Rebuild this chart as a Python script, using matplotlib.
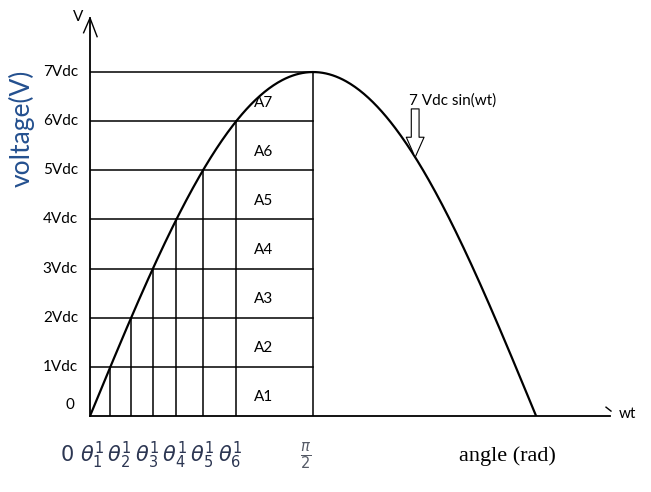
import numpy as np
import matplotlib
matplotlib.use('Agg')
import matplotlib.pyplot as plt

plt.rcParams['font.family'] = ['Lato', 'DejaVu Sans']

# staircase levels (multiples of Vdc) and their labels
levels = [1, 2, 3, 4, 5, 6, 7]
level_labels = ['1Vdc', '2Vdc', '3Vdc', '4Vdc', '5Vdc', '6Vdc', '7Vdc']
area_labels = ['A1', 'A2', 'A3', 'A4', 'A5', 'A6', 'A7']
peak = 7  # 7 Vdc sin(wt)

# switching angles: where the sine reaches each level
theta = [np.arcsin(k / peak) for k in levels[:-1]]

fig = plt.figure(figsize=(6.51, 4.92), dpi=100)
ax = fig.add_axes([90 / 651, 76 / 492, 520 / 651, 398 / 492])
ax.set_xlim(0, 3.662)
ax.set_ylim(0, 8.1)
ax.set_xticks([])
ax.set_yticks([])
for side in ['top', 'right']:
    ax.spines[side].set_visible(False)
for side in ['left', 'bottom']:
    ax.spines[side].set_linewidth(1.3)

# sine curve over half a period
wt = np.linspace(0, np.pi, 400)
ax.plot(wt, peak * np.sin(wt), color='black', lw=1.6)

# horizontal level lines and vertical angle lines
for k in levels:
    ax.plot([0, np.pi / 2], [k, k], color='black', lw=1.1)
for k, th in zip(levels, theta):
    ax.plot([th, th], [0, k], color='black', lw=1.1)
ax.plot([np.pi / 2, np.pi / 2], [0, peak], color='black', lw=1.1)

# level labels on the left
ax.text(-0.11, 0.22, '0', ha='right', va='center', fontsize=11)
for k, lab in zip(levels, level_labels):
    ax.text(-0.085, k, lab, ha='right', va='center', fontsize=11)

# area labels inside each band
for k, lab in enumerate(area_labels):
    ax.text(1.22, k + 0.38, lab, ha='center', va='center', fontsize=11)

# hollow arrow pointing down at the curve, with its label above
xa = 2.29
ax.annotate('', xy=(xa, peak * np.sin(xa)), xytext=(xa, 6.25),
            arrowprops=dict(arrowstyle='simple,head_length=0.9,head_width=0.8,tail_width=0.35',
                            fc='white', ec='black', lw=0.8, mutation_scale=16,
                            shrinkA=0, shrinkB=0))
ax.text(xa - 0.04, 6.43, '7 Vdc sin(wt)', ha='left', va='center', fontsize=11)

# axis arrowheads and names
ax.plot([-0.045, 0, 0.05], [7.8, 8.1, 7.72], color='black', lw=1.0, clip_on=False)
ax.text(-0.08, 8.12, 'V', ha='center', va='center', fontsize=11)
ax.plot([3.634, 3.669], [0.18, 0.1], color='black', lw=1.0, clip_on=False)
ax.text(3.725, 0.05, 'wt', ha='left', va='center', fontsize=11)

ax.text(-0.48, 5.85, 'voltage(V)', rotation=90, ha='center', va='center',
        fontsize=19, color='#24508f')

# angle labels below the axis
fig.text(60 / 651, 1 - 455 / 492,
         r'$0\ \theta_1^1\,\theta_2^1\,\theta_3^1\,\theta_4^1\,\theta_5^1\,\theta_6^1$',
         ha='left', va='center', fontsize=15, color='#2c3652')
fig.text(306 / 651, 1 - 456 / 492, r'$\frac{\pi}{2}$', ha='center', va='center',
         fontsize=15, color='#555a66')
fig.text(507 / 651, 1 - 456 / 492, 'angle (rad)', ha='center', va='center',
         fontsize=16, family='Liberation Serif')

fig.savefig('out.png', dpi=100)
